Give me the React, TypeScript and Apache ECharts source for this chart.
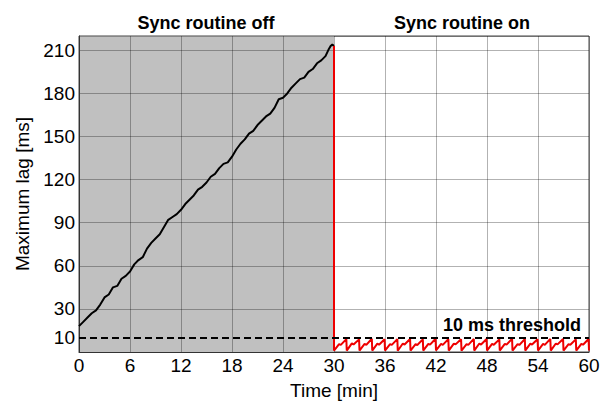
import React, { useEffect, useRef } from "react";
import * as echarts from "echarts";

// Sync routine off: maximum lag [ms] vs time [min]
const lagOff: [number, number][] = [
  [0, 18], [0.5, 21], [1, 24], [1.5, 27], [2, 29], [2.5, 33], [3, 38], [3.5, 40],
  [4, 45], [4.5, 46], [5, 51], [5.5, 53], [6, 56], [6.5, 61], [7, 64], [7.5, 66],
  [8, 72], [8.5, 76], [9, 79], [9.5, 82], [10, 87], [10.5, 92], [11, 94], [11.5, 96],
  [12, 99], [12.5, 103], [13, 106], [13.5, 109], [14, 113], [14.5, 115], [15, 118],
  [15.5, 122], [16, 124], [16.5, 128], [17, 131], [17.5, 132], [18, 136], [18.5, 141],
  [19, 145], [19.5, 148], [20, 152], [20.5, 154], [21, 158], [21.5, 161], [22, 164],
  [22.5, 166], [23, 170], [23.5, 176], [24, 177], [24.5, 180], [25, 184], [25.5, 187],
  [26, 190], [26.5, 191], [27, 195], [27.5, 197], [28, 201], [28.5, 203], [29, 206],
  [29.4, 211], [29.6, 213], [29.8, 214], [30, 213],
];

// Sync routine on: drop then sawtooth under the threshold
const lagOn: [number, number][] = [
  [30, 213], [30, 1],
  [30.6, 5.5], [30.8, 5], [31.45, 9], [31.5, 1],
  [32.1, 6], [32.3, 5.2], [32.95, 8.8], [33, 1],
  [33.6, 5.6], [33.8, 5], [34.45, 9.2], [34.5, 1],
  [35.1, 5.8], [35.3, 5.1], [35.95, 8.9], [36, 1],
  [36.6, 5.5], [36.8, 5], [37.45, 9], [37.5, 0.9],
  [38.1, 5.9], [38.3, 5.2], [38.95, 9.1], [39, 1],
  [39.6, 5.4], [39.8, 4.9], [40.45, 8.8], [40.5, 1],
  [41.1, 5.7], [41.3, 5.1], [41.95, 9.2], [42, 1.1],
  [42.6, 5.6], [42.8, 5], [43.45, 9], [43.5, 1],
  [44.1, 5.8], [44.3, 5.3], [44.95, 8.9], [45, 0.9],
  [45.6, 5.5], [45.8, 5], [46.45, 9.1], [46.5, 1],
  [47.1, 5.9], [47.3, 5.2], [47.95, 9], [48, 1],
  [48.6, 5.6], [48.8, 5], [49.45, 8.8], [49.5, 1],
  [50.1, 5.7], [50.3, 5.1], [50.95, 9.2], [51, 1],
  [51.6, 5.5], [51.8, 4.9], [52.45, 9], [52.5, 1],
  [53.1, 5.8], [53.3, 5.2], [53.95, 8.9], [54, 1],
  [54.6, 5.6], [54.8, 5], [55.45, 9.1], [55.5, 1],
  [56.1, 5.9], [56.3, 5.3], [56.95, 9], [57, 1],
  [57.6, 5.5], [57.8, 5], [58.45, 8.8], [58.5, 1],
  [59.1, 5.7], [59.3, 5.1], [59.95, 9], [60, 1],
];

const offRange: [number, number] = [0, 30];
const thresholdMs = 10;
const thresholdLabel = "10 ms threshold";
const phaseLabels = ["Sync routine off", "Sync routine on"];
const yTickValues = [10, 30, 60, 90, 120, 150, 180, 210];
const xTitle = "Time [min]";
const yTitle = "Maximum lag [ms]";

const FONT = "'Liberation Sans', Arial, Helvetica, sans-serif";

export default function App() {
  const ref = useRef<HTMLDivElement>(null);
  useEffect(() => {
    if (!ref.current) return;
    const chart = echarts.init(ref.current, undefined, { renderer: "svg" });
    chart.setOption({
      animation: false,
      backgroundColor: "#ffffff",
      textStyle: { fontFamily: FONT },
      grid: {
        left: 79,
        right: 12,
        top: 36,
        bottom: 49,
        containLabel: false,
        outerBoundsMode: "none",
        show: true,
        borderColor: "#444",
        borderWidth: 1,
        backgroundColor: "transparent",
      },
      graphic: [
        {
          type: "text",
          x: 206,
          y: 23,
          z: 10,
          style: {
            text: phaseLabels[0],
            align: "center",
            verticalAlign: "middle",
            fontFamily: FONT,
            fontSize: 18,
            fontWeight: "bold",
            fill: "#000",
          },
        },
        {
          type: "text",
          x: 462,
          y: 23,
          z: 10,
          style: {
            text: phaseLabels[1],
            align: "center",
            verticalAlign: "middle",
            fontFamily: FONT,
            fontSize: 18,
            fontWeight: "bold",
            fill: "#000",
          },
        },
      ],
      xAxis: {
        type: "value",
        min: 0,
        max: 60,
        interval: 6,
        z: 2,
        name: xTitle,
        nameLocation: "middle",
        nameGap: 29,
        nameTextStyle: { fontSize: 19, color: "#000", fontFamily: FONT },
        axisLine: { show: true, lineStyle: { color: "#333", width: 1 } },
        axisTick: { show: false },
        axisLabel: { fontSize: 19, color: "#000", margin: 4, fontFamily: FONT },
        splitLine: { show: true, lineStyle: { color: "rgba(0,0,0,0.3)", width: 1 } },
      },
      yAxis: {
        type: "value",
        min: 0,
        max: 220,
        interval: 30,
        z: 2,
        name: yTitle,
        nameLocation: "middle",
        nameGap: 42,
        nameTextStyle: { fontSize: 19, color: "#000", fontFamily: FONT },
        axisLine: { show: true, lineStyle: { color: "#333", width: 1 } },
        axisTick: { show: false },
        axisLabel: {
          fontSize: 19,
          color: "#000",
          margin: 4,
          fontFamily: FONT,
          customValues: yTickValues,
        },
        splitLine: { show: true, lineStyle: { color: "rgba(0,0,0,0.3)", width: 1 } },
      },
      series: [
        {
          type: "line",
          name: "shade",
          z: 1,
          data: [],
          silent: true,
          markArea: {
            silent: true,
            itemStyle: { color: "#c0c0c0" },
            data: [[{ xAxis: offRange[0] }, { xAxis: offRange[1] }]],
          },
        },
        {
          type: "line",
          name: "off",
          z: 3,
          data: lagOff,
          showSymbol: false,
          symbol: "none",
          lineStyle: { color: "#000", width: 2 },
        },
        {
          type: "line",
          name: "on",
          z: 4,
          data: lagOn,
          showSymbol: false,
          symbol: "none",
          lineStyle: { color: "#ee0000", width: 2 },
          markLine: {
            silent: true,
            symbol: ["none", "none"],
            lineStyle: { color: "#000", type: [7, 4], width: 2 },
            label: {
              show: true,
              position: "insideEndTop",
              formatter: thresholdLabel,
              fontFamily: FONT,
              fontSize: 18,
              fontWeight: "bold",
              color: "#000",
              distance: [8, 4],
            },
            data: [{ yAxis: thresholdMs }],
          },
        },
      ],
    });
    return () => chart.dispose();
  }, []);
  return (
    <div
      ref={ref}
      style={{ position: "fixed", left: 0, top: 0, width: 601, height: 401 }}
    />
  );
}
